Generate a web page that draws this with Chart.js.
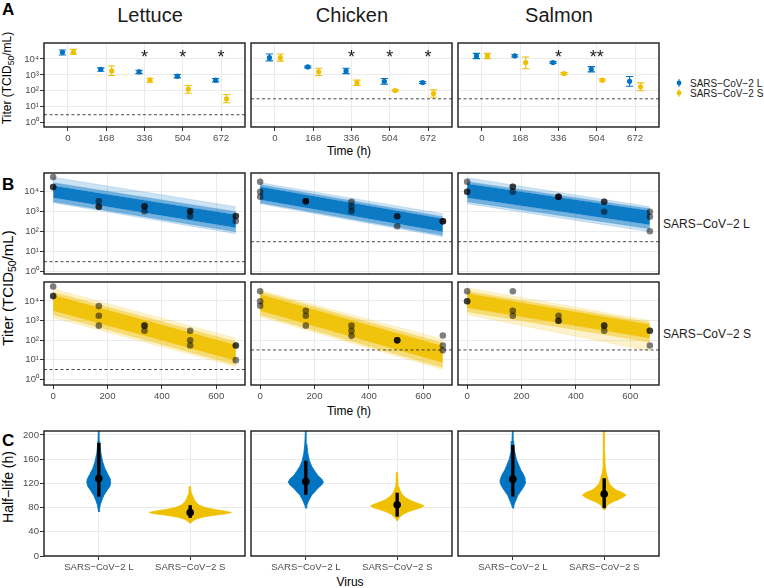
<!DOCTYPE html>
<html lang="en">
<head>
<meta charset="UTF-8">
<title>SARS-CoV-2 L / S on food</title>
<script src="https://cdn.jsdelivr.net/npm/chart.js"></script>
<style>
  body { margin: 0; background: #fff; }
  #fig { position: relative; width: 764px; height: 588px; overflow: hidden; }
  #fig canvas { position: absolute; }
  #txt { position: absolute; left: 0; top: 0; }
</style>
</head>
<body>
<div id="fig">
  <svg id="txt" width="764" height="588" font-family="Liberation Sans, Arial, sans-serif">
    <text transform="translate(11,78) rotate(-90)" text-anchor="middle" font-size="12">Titer (TCID<tspan dy="2.5" font-size="8.5">50</tspan><tspan dy="-2.5">/mL)</tspan></text>
    <text transform="translate(12.5,288) rotate(-90)" text-anchor="middle" font-size="15">Titer (TCID<tspan dy="3" font-size="10.5">50</tspan><tspan dy="-3">/mL)</tspan></text>
  </svg>
</div>
<script>
// ---------------- data ----------------
const foods = ['Lettuce', 'Chicken', 'Salmon'];
const viruses = ['SARS−CoV−2 L', 'SARS−CoV−2 S'];
const times = [0, 168, 336, 504, 672];
const titerTicks = [0, 1, 2, 3, 4];          // log10 titer
const timeTicksB = [0, 200, 400, 600];
const halfLifeTicks = [0, 40, 80, 120, 160, 200];

// A: mean log10 titer, lower / upper error limits
const lettuceL_mean = [4.42, 3.35, 3.19, 2.92, 2.67];
const lettuceL_lo   = [4.25, 3.23, 3.08, 2.81, 2.56];
const lettuceL_hi   = [4.56, 3.44, 3.29, 3.02, 2.77];
const lettuceS_mean = [4.42, 3.25, 2.67, 2.10, 1.50];
const lettuceS_lo   = [4.30, 2.96, 2.54, 1.85, 1.25];
const lettuceS_hi   = [4.60, 3.56, 2.79, 2.33, 1.77];
const chickenL_mean = [4.08, 3.50, 3.25, 2.60, 2.52];
const chickenL_lo   = [3.88, 3.44, 3.08, 2.42, 2.46];
const chickenL_hi   = [4.31, 3.56, 3.42, 2.77, 2.58];
const chickenS_mean = [4.08, 3.19, 2.50, 2.02, 1.83];
const chickenS_lo   = [3.86, 2.96, 2.33, 1.97, 1.60];
const chickenS_hi   = [4.31, 3.42, 2.67, 2.07, 2.06];
const salmonL_mean  = [4.19, 4.19, 3.77, 3.35, 2.60];
const salmonL_lo    = [4.02, 4.12, 3.71, 3.19, 2.29];
const salmonL_hi    = [4.35, 4.26, 3.83, 3.52, 2.90];
const salmonS_mean  = [4.19, 3.77, 3.08, 2.67, 2.25];
const salmonS_lo    = [4.02, 3.38, 3.02, 2.60, 2.00];
const salmonS_hi    = [4.35, 4.12, 3.14, 2.74, 2.50];
const lettuceStars = ['', '', '*', '*', '*'];
const chickenStars = ['', '', '*', '*', '*'];
const salmonStars  = ['', '', '*', '**', ''];
const lodLog = [0.5, 1.5, 1.5];   // detection limit per food (log10)

// B: replicate titers (log10)
const repTimes = [0, 0, 0, 168, 168, 168, 336, 336, 336, 504, 504, 504, 672, 672, 672];
const lettuceL_reps = [4.73, 4.23, 4.23, 3.53, 3.25, 3.25, 3.27, 3.27, 3.02, 3.02, 3.02, 2.77, 2.78, 2.78, 2.53];
const lettuceS_reps = [4.74, 4.25, 4.25, 3.74, 3.25, 2.74, 2.74, 2.74, 2.48, 2.48, 1.99, 1.73, 1.73, 1.73, 0.98];
const chickenL_reps = [4.50, 4.00, 3.75, 3.52, 3.52, 3.52, 3.50, 3.25, 3.02, 2.77, 2.77, 2.27, 2.52, 2.52, 2.52];
const chickenS_reps = [4.50, 3.99, 3.76, 3.50, 3.25, 2.74, 2.74, 2.48, 2.22, 1.99, 1.99, 1.99, 2.24, 1.73, 1.48];
const salmonL_reps  = [4.50, 4.00, 4.00, 4.25, 4.25, 4.00, 3.75, 3.75, 3.75, 3.50, 3.50, 3.00, 3.00, 2.75, 2.02];
const salmonS_reps  = [4.50, 3.99, 3.99, 4.50, 3.50, 3.25, 3.25, 2.99, 2.99, 2.74, 2.74, 2.48, 2.48, 2.48, 1.73];

// B: fitted decay lines, log10 titer at t = 0 and t = 672, outer edge -> core -> outer edge
const fitEnds = [0, 672];
const lettuceL_fit0 = [4.72, 4.45, 4.30, 3.70, 3.50, 3.45];
const lettuceL_fit1 = [3.25, 3.00, 2.85, 2.20, 2.00, 1.90];
const lettuceS_fit0 = [4.62, 4.45, 4.30, 3.50, 3.30, 3.15];
const lettuceS_fit1 = [2.10, 1.92, 1.75, 0.95, 0.75, 0.65];
const chickenL_fit0 = [4.45, 4.35, 4.25, 3.60, 3.45, 3.40];
const chickenL_fit1 = [2.90, 2.75, 2.65, 2.00, 1.82, 1.75];
const chickenS_fit0 = [4.55, 4.47, 4.35, 3.50, 3.30, 3.20];
const chickenS_fit1 = [2.05, 1.85, 1.70, 0.85, 0.60, 0.50];
const salmonL_fit0  = [4.70, 4.50, 4.40, 3.70, 3.50, 3.40];
const salmonL_fit1  = [3.25, 3.15, 3.05, 2.35, 2.15, 2.00];
const salmonS_fit0  = [4.67, 4.50, 4.40, 3.65, 3.45, 3.30];
const salmonS_fit1  = [3.00, 2.90, 2.80, 2.10, 1.90, 1.45];

// C: half-life posterior, density half-width (category units) at each half-life (h)
const lettuceL_hl  = [212, 190, 170, 155, 145, 135, 127, 122, 115, 108, 100, 92, 85, 78, 73];
const lettuceL_den = [0.004, 0.009, 0.022, 0.044, 0.066, 0.099, 0.127, 0.132, 0.121, 0.088, 0.055, 0.033, 0.017, 0.008, 0.003];
const lettuceS_hl  = [115, 105, 97, 90, 84, 80, 77, 74, 72, 70, 67, 64, 61, 58, 54];
const lettuceS_den = [0.003, 0.011, 0.033, 0.055, 0.099, 0.165, 0.264, 0.385, 0.451, 0.396, 0.242, 0.132, 0.066, 0.028, 0.003];
const chickenL_hl  = [210, 185, 170, 158, 148, 140, 133, 127, 122, 117, 112, 106, 101, 95, 90, 84, 79];
const chickenL_den = [0.004, 0.011, 0.022, 0.039, 0.066, 0.099, 0.132, 0.176, 0.193, 0.171, 0.132, 0.099, 0.066, 0.044, 0.028, 0.011, 0.003];
const chickenS_hl  = [138, 125, 115, 108, 102, 97, 92, 88, 85, 83, 80, 77, 73, 69, 65, 61, 58];
const chickenS_den = [0.003, 0.009, 0.017, 0.033, 0.055, 0.088, 0.143, 0.209, 0.264, 0.292, 0.264, 0.198, 0.121, 0.066, 0.033, 0.011, 0.003];
const salmonL_hl   = [210, 190, 175, 160, 150, 142, 135, 128, 123, 118, 112, 106, 100, 94, 88, 83, 79];
const salmonL_den  = [0.004, 0.009, 0.017, 0.039, 0.066, 0.088, 0.116, 0.135, 0.141, 0.132, 0.110, 0.083, 0.055, 0.039, 0.022, 0.011, 0.003];
const salmonS_hl   = [210, 170, 150, 137, 128, 120, 114, 109, 105, 101, 97, 93, 89, 85, 81, 76];
const salmonS_den  = [0.003, 0.007, 0.011, 0.022, 0.039, 0.055, 0.088, 0.132, 0.198, 0.240, 0.209, 0.154, 0.088, 0.044, 0.022, 0.004];
// median, lower, upper of half-life interval
const lettuceL_hlSum = [128, 98, 187];
const lettuceS_hlSum = [72, 63, 84];
const chickenL_hlSum = [123, 101, 157.5];
const chickenS_hlSum = [84.5, 65, 104.6];
const salmonL_hlSum  = [127, 98, 183.5];
const salmonS_hlSum  = [102.5, 79, 128.5];

// ---------------- look ----------------
const BLUE = '#0073C2', YELLOW = '#EFC000';
const GRID = '#EBEBEB', TICKC = '#333333', LABEL = '#4D4D4D';
const FONT = "'Liberation Sans', Arial, sans-serif";
const SUP = ['⁰', '¹', '²', '³', '⁴'];
Chart.defaults.font.family = FONT;
Chart.defaults.color = LABEL;

const colX = [44, 251, 458], colW = 201;
const PAD = { l: 40, t: 8, r: 6, b: 22 };
const fig = document.getElementById('fig');
const svg = document.getElementById('txt');

function rgba(hex, a) {
  const n = parseInt(hex.slice(1), 16);
  return `rgba(${n >> 16},${(n >> 8) & 255},${n & 255},${a})`;
}

function makeCanvas(x, y, w, h) {
  const c = document.createElement('canvas');
  c.width = w + PAD.l + PAD.r;
  c.height = h + PAD.t + PAD.b;
  c.style.left = (x - PAD.l) + 'px';
  c.style.top = (y - PAD.t) + 'px';
  fig.appendChild(c);
  return c;
}

function addText(x, y, str, size, o = {}) {
  const t = document.createElementNS('http://www.w3.org/2000/svg', 'text');
  t.setAttribute('x', x);
  t.setAttribute('y', y);
  t.setAttribute('font-size', size);
  t.setAttribute('fill', o.fill || '#000');
  if (o.anchor) t.setAttribute('text-anchor', o.anchor);
  if (o.bold) t.setAttribute('font-weight', 'bold');
  if (o.rotate) t.setAttribute('transform', `rotate(-90 ${x} ${y})`);
  t.textContent = str;
  svg.appendChild(t);
}

// black panel frame
const frame = {
  id: 'frame',
  afterDraw(chart) {
    const { ctx, chartArea: a } = chart;
    ctx.save();
    ctx.strokeStyle = '#1a1a1a';
    ctx.lineWidth = 1.4;
    ctx.strokeRect(a.left, a.top, a.right - a.left, a.bottom - a.top);
    ctx.restore();
  }
};

function starsPlugin(labels, level) {
  return {
    id: 'stars',
    afterDatasetsDraw(chart) {
      const { ctx, scales: { x, y } } = chart;
      const size = 18;
      ctx.save();
      ctx.fillStyle = '#1a1a1a';
      ctx.font = size + 'px ' + FONT;
      ctx.textAlign = 'center';
      ctx.textBaseline = 'alphabetic';
      labels.forEach((s, i) => {
        if (s) ctx.fillText(s, x.getPixelForValue(times[i]), y.getPixelForValue(level) + size * 0.57);
      });
      ctx.restore();
    }
  };
}

function axis(min, max, ticks, show, fmt, fitSize, isX) {
  return {
    type: 'linear', min, max,
    afterBuildTicks: s => { s.ticks = ticks.map(v => ({ value: v })); },
    afterFit: s => { if (isX) s.height = fitSize; else s.width = fitSize; },
    grid: { color: GRID, lineWidth: 1, tickColor: TICKC, tickLength: 4, drawTicks: show },
    border: { display: false },
    ticks: {
      display: show, color: LABEL, font: { size: 9.6 }, padding: isX ? 2 : 1,
      maxRotation: 0, autoSkip: false, callback: fmt
    }
  };
}
const fmtLog = v => '10' + SUP[v];
const fmtNum = v => String(v);

function baseOptions(xAxis, yAxis) {
  return {
    responsive: false, animation: false, events: [],
    layout: { padding: { left: 0, top: PAD.t, right: PAD.r, bottom: 0 } },
    plugins: { legend: { display: false }, tooltip: { enabled: false } },
    scales: { x: xAxis, y: yAxis }
  };
}

// ---------------- A ----------------
const A_Y = 43, A_H = 84, A_RANGE = [-0.27, 5.0], A_X = [-105, 777];
const DODGE = 24, CAP = 16;

function pts(xs, ys, dx) { return xs.map((t, i) => ({ x: t + dx, y: ys[i] })); }
function errorBars(xs, lo, hi, dx) {
  const out = [];
  xs.forEach((t, i) => {
    const x = t + dx;
    out.push({ x, y: lo[i] }, { x, y: hi[i] }, { x, y: null },
             { x: x - CAP, y: lo[i] }, { x: x + CAP, y: lo[i] }, { x, y: null },
             { x: x - CAP, y: hi[i] }, { x: x + CAP, y: hi[i] }, { x, y: null });
  });
  return out;
}

function panelA(col, mL, loL, hiL, mS, loS, hiS, stars) {
  const cv = makeCanvas(colX[col], A_Y, colW, A_H);
  new Chart(cv, {
    type: 'scatter',
    data: { datasets: [
      { data: pts(times, mL, -DODGE), backgroundColor: BLUE, borderWidth: 0, pointRadius: 2.6, order: 0 },
      { data: pts(times, mS, DODGE), backgroundColor: YELLOW, borderWidth: 0, pointRadius: 2.6, order: 0 },
      { type: 'line', data: errorBars(times, loL, hiL, -DODGE), borderColor: BLUE, borderWidth: 1.1, pointRadius: 0, order: 1 },
      { type: 'line', data: errorBars(times, loS, hiS, DODGE), borderColor: YELLOW, borderWidth: 1.1, pointRadius: 0, order: 1 },
      { type: 'line', data: [{ x: A_X[0], y: lodLog[col] }, { x: A_X[1], y: lodLog[col] }],
        borderColor: '#333', borderWidth: 0.9, borderDash: [3, 2.5], pointRadius: 0, order: 2 }
    ]},
    options: baseOptions(
      axis(A_X[0], A_X[1], times, true, fmtNum, PAD.b, true),
      axis(A_RANGE[0], A_RANGE[1], titerTicks, col === 0, fmtLog, PAD.l, false)),
    plugins: [frame, starsPlugin(stars, 4.38)]
  });
}
panelA(0, lettuceL_mean, lettuceL_lo, lettuceL_hi, lettuceS_mean, lettuceS_lo, lettuceS_hi, lettuceStars);
panelA(1, chickenL_mean, chickenL_lo, chickenL_hi, chickenS_mean, chickenS_lo, chickenS_hi, chickenStars);
panelA(2, salmonL_mean, salmonL_lo, salmonL_hi, salmonS_mean, salmonS_lo, salmonS_hi, salmonStars);

// ---------------- B ----------------
const B_ROWS = [{ y: 173, h: 101, range: [-0.115, 4.935] }, { y: 282, h: 103, range: [-0.29, 4.97] }];
const B_X = [-33.6, 705.6];
const bandFill = [0, 0.2, 0.55, 0.95, 0.55, 0.2];

function panelB(col, row, reps, fit0, fit1, color) {
  const r = B_ROWS[row];
  const cv = makeCanvas(colX[col], r.y, colW, r.h);
  const bands = fit0.map((v0, i) => ({
    type: 'line',
    data: [{ x: fitEnds[0], y: v0 }, { x: fitEnds[1], y: fit1[i] }],
    borderColor: rgba(color, i === 0 || i === 5 ? 0.25 : 0.4), borderWidth: 0.6, pointRadius: 0,
    fill: i === 0 ? false : '-1', backgroundColor: rgba(color, bandFill[i]), order: 2
  }));
  new Chart(cv, {
    type: 'scatter',
    data: { datasets: [
      ...bands,
      { data: pts(repTimes, reps, 0), backgroundColor: 'rgba(0,0,0,0.5)', borderWidth: 0, pointRadius: 3.3, order: 0 },
      { type: 'line', data: [{ x: B_X[0], y: lodLog[col] }, { x: B_X[1], y: lodLog[col] }],
        borderColor: '#333', borderWidth: 0.9, borderDash: [3, 2.5], pointRadius: 0, order: 1 }
    ]},
    options: baseOptions(
      axis(B_X[0], B_X[1], timeTicksB, row === 1, fmtNum, PAD.b, true),
      axis(r.range[0], r.range[1], titerTicks, col === 0, fmtLog, PAD.l, false)),
    plugins: [frame]
  });
}
panelB(0, 0, lettuceL_reps, lettuceL_fit0, lettuceL_fit1, BLUE);
panelB(1, 0, chickenL_reps, chickenL_fit0, chickenL_fit1, BLUE);
panelB(2, 0, salmonL_reps, salmonL_fit0, salmonL_fit1, BLUE);
panelB(0, 1, lettuceS_reps, lettuceS_fit0, lettuceS_fit1, YELLOW);
panelB(1, 1, chickenS_reps, chickenS_fit0, chickenS_fit1, YELLOW);
panelB(2, 1, salmonS_reps, salmonS_fit0, salmonS_fit1, YELLOW);

// ---------------- C ----------------
const C_Y = 431, C_H = 125, C_RANGE = [0, 206.6], C_X = [0.4, 2.6];

function violin(center, hl, den) {
  const right = hl.map((v, i) => ({ x: center + den[i], y: v })).reverse();
  const left = hl.map((v, i) => ({ x: center - den[i], y: v }));
  return right.concat(left);
}

function panelC(col, hlL, denL, sumL, hlS, denS, sumS) {
  const cv = makeCanvas(colX[col], C_Y, colW, C_H);
  const sets = [];
  [[1, hlL, denL, sumL, BLUE], [2, hlS, denS, sumS, YELLOW]].forEach(([c, hl, den, sum, color]) => {
    sets.push({ type: 'line', data: violin(c, hl, den), fill: 'shape', backgroundColor: color,
                borderColor: color, borderWidth: 0.8, pointRadius: 0, order: 2 });
    sets.push({ type: 'line', data: [{ x: c, y: sum[1] }, { x: c, y: sum[2] }],
                borderColor: '#000', borderWidth: 3.4, pointRadius: 0, order: 1 });
    sets.push({ data: [{ x: c, y: sum[0] }], backgroundColor: '#000', borderWidth: 0, pointRadius: 3.8, order: 0 });
  });
  new Chart(cv, {
    type: 'scatter',
    data: { datasets: sets },
    options: baseOptions(
      axis(C_X[0], C_X[1], [1, 2], true, v => viruses[v - 1], PAD.b, true),
      axis(C_RANGE[0], C_RANGE[1], halfLifeTicks, col === 0, fmtNum, PAD.l, false)),
    plugins: [frame]
  });
}
panelC(0, lettuceL_hl, lettuceL_den, lettuceL_hlSum, lettuceS_hl, lettuceS_den, lettuceS_hlSum);
panelC(1, chickenL_hl, chickenL_den, chickenL_hlSum, chickenS_hl, chickenS_den, chickenS_hlSum);
panelC(2, salmonL_hl, salmonL_den, salmonL_hlSum, salmonS_hl, salmonS_den, salmonS_hlSum);

// ---------------- text ----------------
addText(2, 15, 'A', 17, { bold: true });
addText(2, 190, 'B', 17, { bold: true });
addText(2, 446, 'C', 17, { bold: true });
[150, 352, 559].forEach((cx, i) => addText(cx, 22, foods[i], 20, { anchor: 'middle', fill: '#1a1a1a' }));
addText(349, 155, 'Time (h)', 12, { anchor: 'middle' });
addText(349, 415, 'Time (h)', 12, { anchor: 'middle' });
addText(350, 586, 'Virus', 12, { anchor: 'middle' });
addText(13, 487, 'Half−life (h)', 14, { anchor: 'middle', rotate: true });
addText(663, 228.3, viruses[0], 12, { fill: '#1a1a1a' });
addText(663, 337.5, viruses[1], 12, { fill: '#1a1a1a' });

// legend for A
[[83, BLUE, viruses[0]], [93, YELLOW, viruses[1]]].forEach(([y, color, label]) => {
  const ns = 'http://www.w3.org/2000/svg';
  const ln = document.createElementNS(ns, 'line');
  ln.setAttribute('x1', 679); ln.setAttribute('x2', 679);
  ln.setAttribute('y1', y - 4); ln.setAttribute('y2', y + 4);
  ln.setAttribute('stroke', color); ln.setAttribute('stroke-width', 1);
  svg.appendChild(ln);
  const dot = document.createElementNS(ns, 'circle');
  dot.setAttribute('cx', 679); dot.setAttribute('cy', y); dot.setAttribute('r', 2.4);
  dot.setAttribute('fill', color);
  svg.appendChild(dot);
  addText(690, y + 3.6, label, 10, { fill: '#1a1a1a' });
});
</script>
</body>
</html>
